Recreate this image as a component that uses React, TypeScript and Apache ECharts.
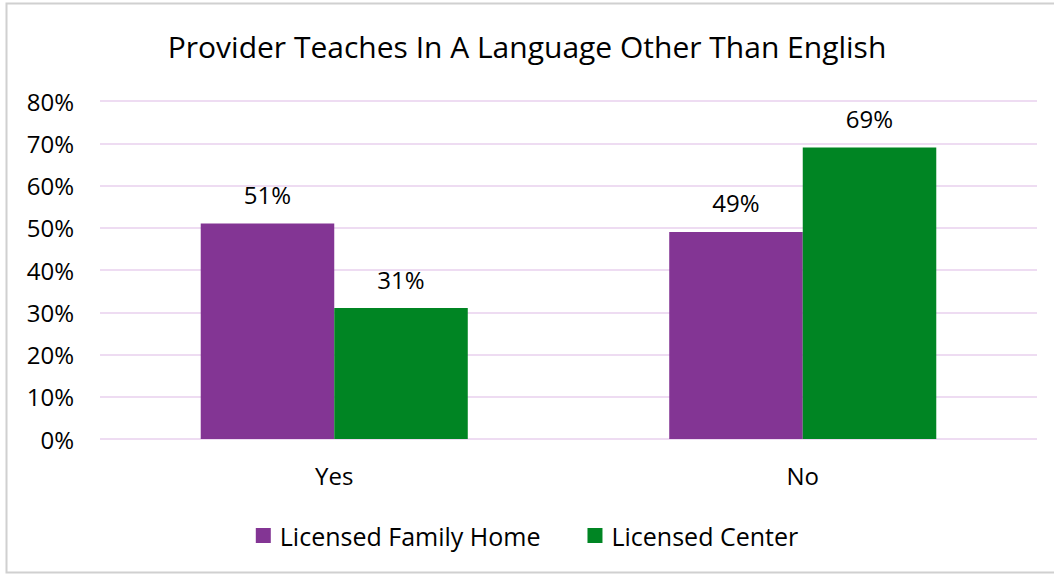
import React, { useEffect, useRef } from "react";
import * as echarts from "echarts";

const categories = ["Yes", "No"];
const seriesNames = ["Licensed Family Home", "Licensed Center"];
const familyHome = [51, 49];
const center = [31, 69];
const colors = ["#833594", "#008523"];
const FONT = "'Open Sans', 'Noto Sans', sans-serif";

export default function App() {
  const ref = useRef<HTMLDivElement>(null);
  useEffect(() => {
    const chart = echarts.init(ref.current!, null, { renderer: "svg" });
    const label = {
      show: true,
      position: "top" as const,
      distance: 17,
      formatter: (p: any) => p.value + "%",
      fontFamily: FONT,
      fontSize: 24,
      color: "#000",
    };
    chart.setOption({
      animation: false,
      backgroundColor: "#fff",
      title: {
        text: "Provider Teaches In A Language Other Than English",
        left: "center",
        top: 26,
        textStyle: { fontFamily: FONT, fontSize: 30, fontWeight: "normal", color: "#000" },
      },
      graphic: [
        {
          type: "rect",
          shape: { x: 6.5, y: 3.5, width: 1060, height: 569 },
          style: { fill: "none", stroke: "#D0D0D0", lineWidth: 2 },
          silent: true,
        },
      ],
      legend: {
        bottom: 22,
        left: "center",
        itemWidth: 15,
        itemHeight: 15,
        itemGap: 47,
        icon: "rect",
        textStyle: { fontFamily: FONT, fontSize: 25, color: "#000", padding: [0, 0, 0, 4] },
        data: seriesNames,
      },
      grid: { left: 100, right: 17, top: 101, bottom: 136, containLabel: false },
      xAxis: {
        type: "category",
        data: categories,
        axisLine: { show: false },
        axisTick: { show: false },
        axisLabel: { fontFamily: FONT, fontSize: 24, color: "#000", margin: 24 },
      },
      yAxis: {
        type: "value",
        min: 0,
        max: 80,
        interval: 10,
        axisLabel: { formatter: "{value}%", fontFamily: FONT, fontSize: 24, color: "#000", margin: 26 },
        axisLine: { show: false },
        axisTick: { show: false },
        splitLine: { lineStyle: { color: "#EEDCF2", width: 2 } },
      },
      series: [
        {
          name: seriesNames[0],
          type: "bar",
          data: familyHome,
          barGap: "0%",
          barCategoryGap: "43%",
          itemStyle: { color: colors[0] },
          label,
        },
        {
          name: seriesNames[1],
          type: "bar",
          data: center,
          barGap: "0%",
          barCategoryGap: "43%",
          itemStyle: { color: colors[1] },
          label,
        },
      ],
    });
    return () => chart.dispose();
  }, []);
  return (
    <div
      ref={ref}
      style={{ position: "fixed", left: 0, top: 0, width: 1054, height: 575 }}
    />
  );
}
